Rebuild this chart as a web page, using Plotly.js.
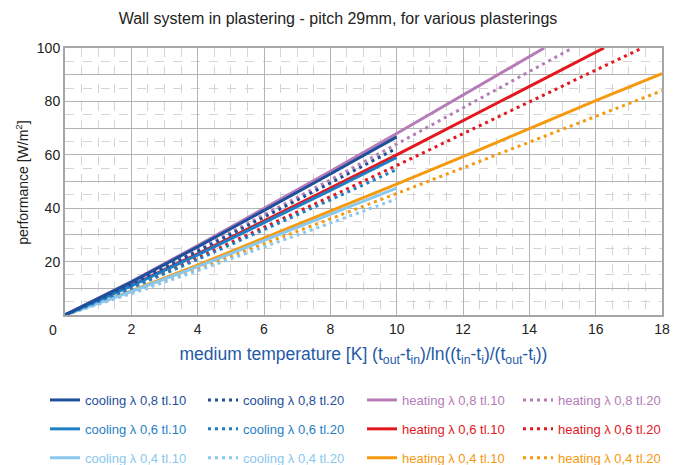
<!DOCTYPE html>
<html>
<head>
<meta charset="utf-8">
<script src="https://cdn.plot.ly/plotly-3.0.1.min.js"></script>
<style>html,body{margin:0;padding:0;background:#fff;}#chart{width:676px;height:465px;}</style>
</head>
<body>
<div id="chart"></div>
<script>
// ---- data ----
const xCool = [0, 2, 4, 6, 8, 10];
const coolL08T10 = [0, 12.3, 25.5, 39.0, 52.8, 66.7];
const coolL08T20 = [0, 11.5, 23.9, 36.6, 49.4, 62.5];
const coolL06T10 = [0, 10.9, 22.5, 34.5, 46.7, 59.0];
const coolL06T20 = [0, 10.1, 20.8, 31.9, 43.1, 54.5];
const coolL04T10 = [0, 8.8, 18.1, 27.8, 37.6, 47.5];
const coolL04T20 = [0, 8.0, 16.6, 25.4, 34.4, 43.5];

const xHeatL08T10 = [0, 2, 4, 6, 8, 10, 12, 14, 14.45];
const heatL08T10  = [0, 12.5, 26.0, 39.8, 53.8, 68.0, 82.3, 96.8, 100];
const xHeatL08T20 = [0, 2, 4, 6, 8, 10, 12, 14, 15.3];
const heatL08T20  = [0, 11.8, 24.4, 37.4, 50.6, 64.0, 77.5, 91.1, 100];
const xHeatL06T10 = [0, 2, 4, 6, 8, 10, 12, 14, 16, 16.25];
const heatL06T10  = [0, 11.1, 22.9, 35.1, 47.5, 60.0, 72.7, 85.4, 98.3, 100];
const xHeatL06T20 = [0, 2, 4, 6, 8, 10, 12, 14, 16, 17.4];
const heatL06T20  = [0, 10.3, 21.4, 32.8, 44.3, 56.0, 67.8, 79.7, 91.7, 100];
const xHeatL04 = [0, 2, 4, 6, 8, 10, 12, 14, 16, 18];
const heatL04T10  = [0, 9.0, 18.7, 28.7, 38.8, 49.0, 59.3, 69.8, 80.3, 90.4];
const heatL04T20  = [0, 8.4, 17.4, 26.6, 36.0, 45.5, 55.1, 64.8, 74.5, 84.0];

const seriesNames = [
  'cooling λ 0,8 tl.10', 'cooling λ 0,8 tl.20', 'heating λ 0,8 tl.10', 'heating λ 0,8 tl.20',
  'cooling λ 0,6 tl.10', 'cooling λ 0,6 tl.20', 'heating λ 0,6 tl.10', 'heating λ 0,6 tl.20',
  'cooling λ 0,4 tl.10', 'cooling λ 0,4 tl.20', 'heating λ 0,4 tl.10', 'heating λ 0,4 tl.20'
];
const xTickVals = [2, 4, 6, 8, 10, 12, 14, 16, 18];
const yTickVals = [20, 40, 60, 80, 100];
const yMidGridVals = [10, 30, 50, 70, 90];

// ---- styles ----
const C = {
  c08: '#1d4f9c', c06: '#1f7fc4', c04: '#8ac7ef',
  h08: '#b57cb8', h06: '#e3171d', h04: '#f5990f'
};
const FONT = 'Liberation Sans, Arial, sans-serif';
const DOT = '3px,4px';
const GRID = '#b4b4b4', MINOR = '#d4d4d4';

// column legend id by series index (col = idx % 4), row = floor(idx / 4)
const colLegend = ['legend', 'legend2', 'legend3', 'legend4'];

function tr(x, y, idx, color, dotted) {
  return {
    x: x, y: y, type: 'scatter', mode: 'lines',
    name: '<span style="color:' + color + '">' + seriesNames[idx] + '</span>',
    line: {color: color, width: 3, dash: dotted ? DOT : 'solid'},
    legend: colLegend[idx % 4], legendgroup: 'g' + idx, legendrank: Math.floor(idx / 4) + 1,
    hoverinfo: 'skip'
  };
}

const data = [
  // empty helper trace so the overlay axis (solid grid every 10) exists
  {x: [], y: [], type: 'scatter', mode: 'lines', yaxis: 'y2', showlegend: false, hoverinfo: 'skip'},
  tr(xHeatL04, heatL04T20, 11, C.h04, true),
  tr(xHeatL04, heatL04T10, 10, C.h04, false),
  tr(xHeatL06T20, heatL06T20, 7, C.h06, true),
  tr(xHeatL06T10, heatL06T10, 6, C.h06, false),
  tr(xHeatL08T20, heatL08T20, 3, C.h08, true),
  tr(xHeatL08T10, heatL08T10, 2, C.h08, false),
  tr(xCool, coolL04T20, 9, C.c04, true),
  tr(xCool, coolL04T10, 8, C.c04, false),
  tr(xCool, coolL06T20, 5, C.c06, true),
  tr(xCool, coolL06T10, 4, C.c06, false),
  tr(xCool, coolL08T20, 1, C.c08, true),
  tr(xCool, coolL08T10, 0, C.c08, false)
];

function leg(xPix) {
  return {
    orientation: 'v', xref: 'container', yref: 'container',
    x: xPix / 676, y: 1 - 385 / 465, xanchor: 'left', yanchor: 'top',
    font: {family: FONT, size: 13, color: '#333'},
    bgcolor: 'rgba(0,0,0,0)', traceorder: 'grouped', tracegroupgap: 9, itemclick: false
  };
}

const layout = {
  width: 676, height: 465,
  margin: {l: 65, r: 14, t: 48, b: 150, autoexpand: false},
  paper_bgcolor: '#fff', plot_bgcolor: '#fff',
  font: {family: FONT, size: 14, color: '#222'},
  showlegend: true,
  title: {text: 'Wall system in plastering - pitch 29mm, for various plasterings',
          x: 0.5, xanchor: 'center', y: 1 - 18 / 465, yanchor: 'middle',
          font: {family: FONT, size: 16, color: '#222'}},
  xaxis: {
    range: [0, 18], tickvals: xTickVals, ticks: '', showline: true, mirror: true,
    linecolor: '#a6a6a6', linewidth: 2, gridcolor: GRID, gridwidth: 1, zeroline: false,
    tickfont: {family: FONT, size: 14, color: '#222'},
    minor: {dtick: 0.5, showgrid: true, gridcolor: MINOR, griddash: 'dash', gridwidth: 1},
    title: {text: 'medium temperature [K] (t<sub>out</sub>-t<sub>in</sub>)/ln((t<sub>in</sub>-t<sub>i</sub>)/(t<sub>out</sub>-t<sub>i</sub>))',
            font: {family: FONT, size: 17.5, color: '#1f5aa6'}, standoff: 12}
  },
  yaxis: {
    range: [0, 100], tickvals: yTickVals, ticks: '', showline: true, mirror: true,
    linecolor: '#a6a6a6', linewidth: 2, gridcolor: GRID, gridwidth: 1, zeroline: false,
    tickfont: {family: FONT, size: 14, color: '#222'},
    minor: {dtick: 5, showgrid: true, gridcolor: MINOR, griddash: 'dash', gridwidth: 1}
  },
  yaxis2: {
    range: [0, 100], overlaying: 'y', side: 'left', tickvals: yMidGridVals, showticklabels: false,
    ticks: '', showline: false, showgrid: true, gridcolor: GRID, gridwidth: 1, zeroline: false
  },
  legend: leg(45), legend2: leg(203), legend3: leg(362), legend4: leg(518),
  annotations: [
    {text: '0', xref: 'paper', yref: 'paper', x: 0, y: 0, xanchor: 'right', yanchor: 'top',
     xshift: -6, yshift: -5, showarrow: false, font: {family: FONT, size: 14, color: '#222'}},
    {text: 'performance [W/m<sup>2</sup>]', xref: 'paper', yref: 'paper', x: 0, y: 0.495,
     xanchor: 'center', yanchor: 'middle', xshift: -43, textangle: -90, showarrow: false,
     font: {family: FONT, size: 14, color: '#222'}}
  ]
};

Plotly.newPlot('chart', data, layout, {displayModeBar: false, staticPlot: true});
</script>
</body>
</html>
